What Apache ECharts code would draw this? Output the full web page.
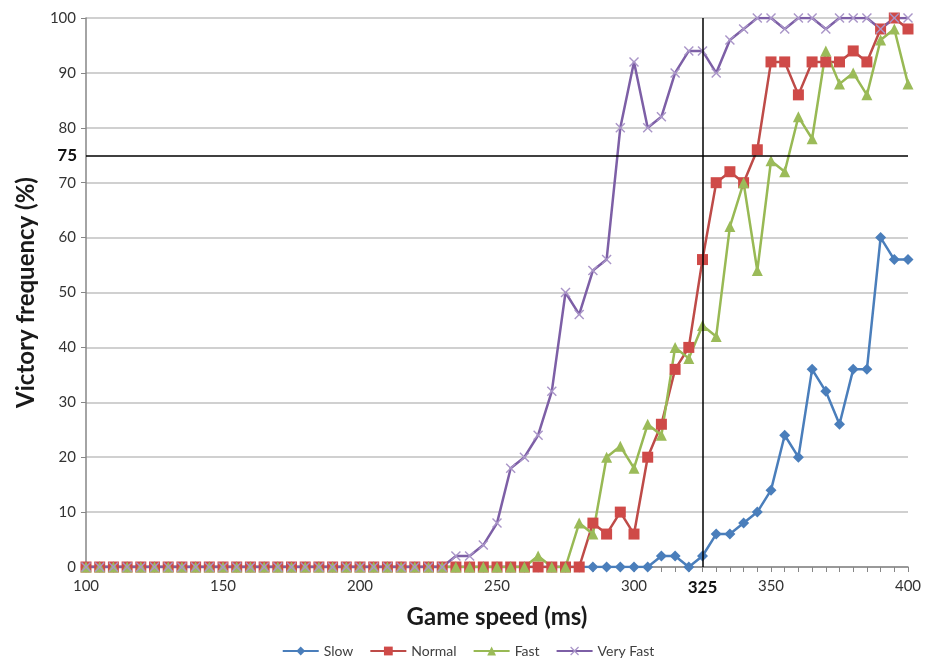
<!DOCTYPE html>
<html>
<head>
<meta charset="utf-8">
<script src="https://cdn.jsdelivr.net/npm/echarts@6/dist/echarts.min.js"></script>
<style>
html,body{margin:0;padding:0;background:#fff;}
#main{width:936px;height:661px;}
</style>
</head>
<body>
<div id="main"></div>
<script>
var speeds = [100,105,110,115,120,125,130,135,140,145,150,155,160,165,170,175,180,185,190,195,
  200,205,210,215,220,225,230,235,240,245,250,255,260,265,270,275,280,285,290,295,
  300,305,310,315,320,325,330,335,340,345,350,355,360,365,370,375,380,385,390,395,400];

var slow = [0,0,0,0,0,0,0,0,0,0,0,0,0,0,0,0,0,0,0,0,
  0,0,0,0,0,0,0,0,0,0,0,0,0,0,0,0,0,0,0,0,
  0,0,2,2,0,2,6,6,8,10,14,24,20,36,32,26,36,36,60,56,56];
var normal = [0,0,0,0,0,0,0,0,0,0,0,0,0,0,0,0,0,0,0,0,
  0,0,0,0,0,0,0,0,0,0,0,0,0,0,0,0,0,8,6,10,
  6,20,26,36,40,56,70,72,70,76,92,92,86,92,92,92,94,92,98,100,98];
var fast = [0,0,0,0,0,0,0,0,0,0,0,0,0,0,0,0,0,0,0,0,
  0,0,0,0,0,0,0,0,0,0,0,0,0,2,0,0,8,6,20,22,
  18,26,24,40,38,44,42,62,70,54,74,72,82,78,94,88,90,86,96,98,88];
var veryFast = [0,0,0,0,0,0,0,0,0,0,0,0,0,0,0,0,0,0,0,0,
  0,0,0,0,0,0,0,2,2,4,8,18,20,24,32,50,46,54,56,80,
  92,80,82,90,94,94,90,96,98,100,100,98,100,100,98,100,100,100,98,100,100];

var thresholdY = 75;
var thresholdX = 325;

function pairs(vals) {
  return speeds.map(function(x, i) { return [x, vals[i]]; });
}

var crossPath = 'path://M0,1L1,0L5,4L9,0L10,1L6,5L10,9L9,10L5,6L1,10L0,9L4,5Z';
var font = 'Lato, "Open Sans", sans-serif';

var myChart = echarts.init(document.getElementById('main'));
var option = {
  animation: false,
  textStyle: {fontFamily: font},
  grid: {left: 86, right: 28, top: 18, bottom: 94},
  legend: {
    bottom: -2,
    itemWidth: 36,
    itemHeight: 11,
    itemGap: 16,
    textStyle: {fontSize: 14, color: '#404040', fontFamily: font},
    data: ['Slow', 'Normal', 'Fast', 'Very Fast']
  },
  xAxis: {
    type: 'value',
    min: 100,
    max: 400,
    interval: 5,
    name: 'Game speed (ms)',
    nameLocation: 'middle',
    nameGap: 38,
    nameTextStyle: {fontSize: 24, fontWeight: 'bold', color: '#1a1a1a', fontFamily: font},
    axisLine: {lineStyle: {color: '#868686', width: 1.5}},
    axisTick: {length: 5, lineStyle: {color: '#868686'}},
    splitLine: {show: false},
    axisLabel: {
      fontSize: 15,
      color: '#333',
      margin: 12,
      formatter: function(v) {
        if (v === thresholdX) return '{b|325}';
        return v % 50 === 0 ? String(v) : '';
      },
      rich: {b: {fontSize: 17, fontWeight: 'bold', color: '#111', fontFamily: font}}
    }
  },
  yAxis: {
    type: 'value',
    min: 0,
    max: 100,
    interval: 10,
    name: 'Victory frequency (%)',
    nameLocation: 'middle',
    nameGap: 48,
    nameTextStyle: {fontSize: 24, fontWeight: 'bold', color: '#1a1a1a', fontFamily: font},
    axisLine: {show: true, lineStyle: {color: '#868686', width: 1.5}},
    axisTick: {show: true, length: 5, lineStyle: {color: '#868686'}},
    splitLine: {lineStyle: {color: '#c0c0c0', width: 1.5}},
    axisLabel: {fontSize: 15, color: '#333', margin: 10}
  },
  series: [
    {
      name: 'Slow', type: 'line', data: pairs(slow),
      symbol: 'diamond', symbolSize: 11,
      lineStyle: {color: '#4a7ebb', width: 2.5},
      itemStyle: {color: '#4a7ebb'}
    },
    {
      name: 'Normal', type: 'line', data: pairs(normal),
      symbol: 'rect', symbolSize: 11,
      lineStyle: {color: '#be4b48', width: 2.5},
      itemStyle: {color: '#cf4a48'},
      markLine: {
        silent: true, symbol: 'none',
        lineStyle: {color: '#000', width: 1.5, type: 'solid'},
        label: {show: false},
        data: [
          {yAxis: thresholdY, label: {show: true, position: 'start', formatter: '75', fontSize: 17, fontWeight: 'bold', color: '#111', distance: 9}},
          {xAxis: thresholdX}
        ]
      }
    },
    {
      name: 'Fast', type: 'line', data: pairs(fast),
      symbol: 'triangle', symbolSize: 11,
      lineStyle: {color: '#98b954', width: 2.5},
      itemStyle: {color: '#9bbb59'}
    },
    {
      name: 'Very Fast', type: 'line', data: pairs(veryFast),
      symbol: crossPath, symbolSize: 10,
      lineStyle: {color: '#7d5fa6', width: 2.5},
      itemStyle: {color: '#a995c8'}
    }
  ]
};
option && myChart.setOption(option);
</script>
</body>
</html>
